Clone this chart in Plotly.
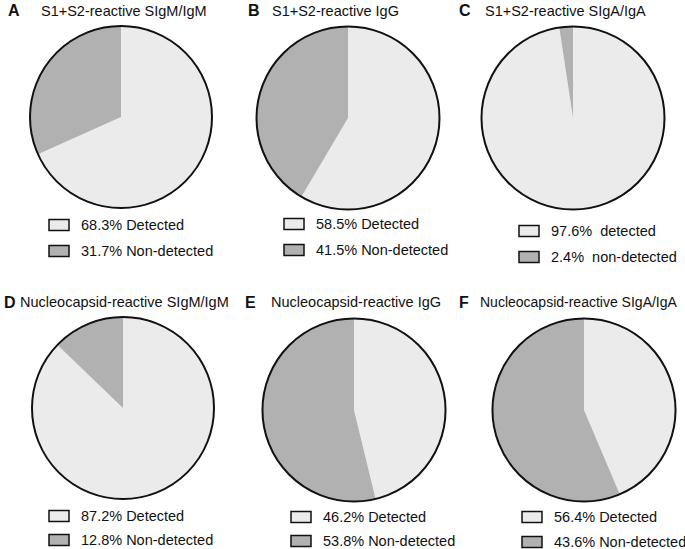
import plotly.graph_objects as go

W, H = 685, 549

# ---------------- data ----------------
panel_letters = ["A", "B", "C", "D", "E", "F"]
panel_titles = [
    "S1+S2-reactive SIgM/IgM",
    "S1+S2-reactive IgG",
    "S1+S2-reactive SIgA/IgA",
    "Nucleocapsid-reactive SIgM/IgM",
    "Nucleocapsid-reactive IgG",
    "Nucleocapsid-reactive SIgA/IgA",
]
# percentages printed in the legends
detected_pct = [68.3, 58.5, 97.6, 87.2, 46.2, 56.4]
non_detected_pct = [31.7, 41.5, 2.4, 12.8, 53.8, 43.6]
detected_word = ["Detected", "Detected", "detected", "Detected", "Detected", "Detected"]
non_detected_word = ["Non-detected", "Non-detected", "non-detected", "Non-detected",
                     "Non-detected", "Non-detected"]
label_gap = [" ", " ", "\u00a0\u00a0", " ", " ", " "]
# slice shares as drawn in the source figure (light slice first, clockwise from 12 o'clock)
light_slice = [68.3, 58.5, 97.6, 87.2, 46.2, 43.6]
dark_slice = [31.7, 41.5, 2.4, 12.8, 53.8, 56.4]

# ---------------- style / layout ----------------
LIGHT = "#ebebeb"
DARK = "#b1b1b1"
FONT = "Liberation Sans, Arial, sans-serif"

# pie centre (px), radius
pie_geo = [(121, 117, 91), (348, 118, 91.5), (573, 118, 91.5),
           (123, 408, 91), (354, 410, 91.5), (584, 410, 91.5)]
letter_pos = [(6, 11), (246, 11), (457, 11), (2, 302), (243, 302), (457, 302)]
title_x = [39, 270, 483, 18, 269, 478]
legend_box_x = [49, 284, 519, 49, 291, 522]
legend_rows = [(225, 251), (224, 250), (231, 257), (516, 540), (517, 541), (517, 542)]


def px(x):
    return x / W


def py(y):
    return 1 - y / H


fig = go.Figure()
annotations = []
shapes = []

for i in range(6):
    cx, cy, r = pie_geo[i]
    dom = dict(x=[px(cx - r), px(cx + r)], y=[py(cy + r), py(cy - r)])
    fig.add_trace(go.Pie(
        values=[light_slice[i], dark_slice[i]],
        labels=["Detected", "Non-detected"],
        marker=dict(colors=[LIGHT, DARK], line=dict(width=0)),
        sort=False, direction="clockwise", rotation=0,
        textinfo="none", hoverinfo="label+percent", showlegend=False,
        domain=dom,
    ))
    # outer outline
    fig.add_trace(go.Pie(
        values=[1], labels=["outline"],
        marker=dict(colors=["rgba(0,0,0,0)"], line=dict(color="#111111", width=2)),
        textinfo="none", hoverinfo="skip", showlegend=False, domain=dom,
    ))

    lx, ly = letter_pos[i]
    annotations.append(dict(
        x=px(lx), y=py(ly), xref="paper", yref="paper", xanchor="left", yanchor="middle",
        text="<b>%s</b>" % panel_letters[i], showarrow=False,
        font=dict(family=FONT, size=16, color="#111111"),
    ))
    annotations.append(dict(
        x=px(title_x[i]), y=py(ly), xref="paper", yref="paper", xanchor="left",
        yanchor="middle", text=panel_titles[i], showarrow=False,
        font=dict(family=FONT, size=14.5 if i != 5 else 14, color="#111111"),
    ))

    bx = legend_box_x[i]
    texts = [
        f"{detected_pct[i]}%{label_gap[i]}{detected_word[i]}",
        f"{non_detected_pct[i]}%{label_gap[i]}{non_detected_word[i]}",
    ]
    for ry, col, t in zip(legend_rows[i], [LIGHT, DARK], texts):
        shapes.append(dict(
            type="rect", xref="paper", yref="paper",
            x0=px(bx), x1=px(bx + 20), y0=py(ry + 5.5), y1=py(ry - 5.5),
            fillcolor=col, line=dict(color="#111111", width=1.5),
        ))
        annotations.append(dict(
            x=px(bx + 30), y=py(ry), xref="paper", yref="paper", xanchor="left",
            yanchor="middle", text=t, showarrow=False,
            font=dict(family=FONT, size=14.5, color="#111111"),
        ))

fig.update_layout(
    width=W, height=H,
    margin=dict(l=0, r=0, t=0, b=0),
    paper_bgcolor="white", plot_bgcolor="white",
    annotations=annotations, shapes=shapes,
)

fig.write_html(
    "out.html",
    config={"displayModeBar": False},
    post_script="document.body.style.margin='0';document.body.style.overflow='hidden';",
)
